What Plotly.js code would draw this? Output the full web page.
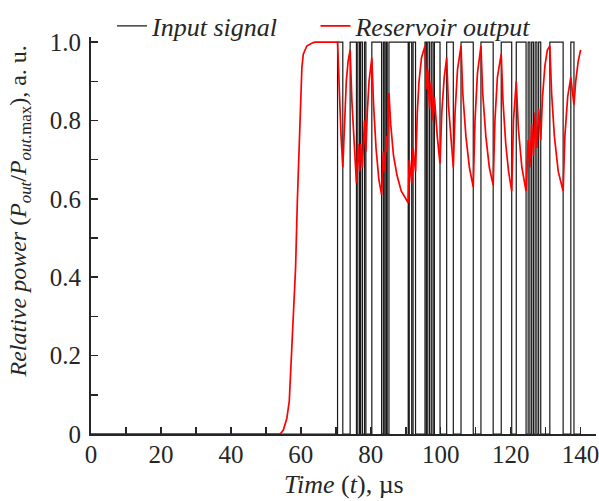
<!DOCTYPE html>
<html>
<head>
<meta charset="utf-8">
<script src="https://cdn.plot.ly/plotly-3.0.1.min.js"></script>
<style>
html,body{margin:0;padding:0;background:#fff;}
#chart{width:599px;height:501px;}
</style>
</head>
<body>
<div id="chart"></div>
<script>
// Input signal: switching times (µs) and level after each time, drawn as a step (hv)
const inT = [0, 70.5, 72.0, 74.1, 75.9, 76.3, 76.8, 77.1, 77.6, 78.2, 78.6, 80.3, 83.1, 83.6, 84.0, 84.4, 84.7, 85.2, 90.7, 91.0, 91.7, 92.1, 92.8, 95.5, 95.9, 96.3, 96.8, 97.3, 97.8, 98.2, 99.8, 101.7, 103.6, 105.8, 109.3, 111.5, 115.0, 117.3, 120.3, 121.6, 124.4, 125.0, 125.5, 126.0, 126.5, 127.0, 127.5, 128.0, 128.6, 131.2, 135.0, 137.2, 138.1, 140];
const inV = [0, 1, 0, 1, 0, 1, 0, 1, 0, 1, 0, 1, 0, 1, 0, 1, 0, 1, 0, 1, 0, 1, 0, 1, 0, 1, 0, 1, 0, 1, 0, 1, 0, 1, 0, 1, 0, 1, 0, 1, 0, 1, 0, 1, 0, 1, 0, 1, 0, 1, 0, 1, 0, 0];

// Reservoir output (relative power)
const outT = [0, 54.1, 55.0, 56.0, 56.7, 57.7, 58.5, 59.0, 59.6, 59.8, 60.3, 60.7, 61.7, 63.1, 64.0, 70.5,
  71.0, 71.5, 72.0, 72.5, 73.0, 73.5, 74.1, 74.6, 75.2, 75.9,
  76.3, 76.8, 77.1, 77.6, 78.2, 78.6, 79.0, 79.5, 80.3,
  80.8, 81.5, 82.3, 83.1, 83.6, 84.0, 84.4, 84.7, 85.2,
  85.7, 86.5, 87.5, 88.7, 90.7, 91.0, 91.7, 92.1, 92.8,
  93.3, 93.8, 94.5, 95.5, 95.9, 96.3, 96.8, 97.3, 97.8, 98.2, 99.0, 99.8,
  100.3, 101.0, 101.7, 102.2, 102.9, 103.6, 104.1, 104.8, 105.8,
  106.3, 107.2, 108.2, 109.3, 109.8, 110.5, 111.5,
  112.0, 112.9, 113.9, 115.0, 115.5, 116.2, 117.3,
  117.8, 118.6, 119.4, 120.3, 120.8, 121.6, 122.2, 123.2, 124.4,
  125.0, 125.5, 126.0, 126.5, 127.0, 127.5, 128.0, 128.6,
  129.1, 129.8, 130.5, 131.2, 131.7, 132.5, 133.6, 135.0,
  135.5, 136.3, 137.2, 138.1, 138.6, 139.3, 140];
const outP = [0, 0, 0.01, 0.04, 0.084, 0.254, 0.424, 0.594, 0.765, 0.85, 0.935, 0.969, 0.99, 0.997, 1.0, 1.0,
  0.87, 0.76, 0.68, 0.82, 0.9, 0.95, 0.98, 0.85, 0.74, 0.64,
  0.74, 0.67, 0.74, 0.68, 0.8, 0.72, 0.82, 0.9, 0.96,
  0.84, 0.73, 0.65, 0.61, 0.72, 0.67, 0.76, 0.72, 0.87,
  0.79, 0.71, 0.66, 0.62, 0.59, 0.7, 0.64, 0.73, 0.67,
  0.82, 0.9, 0.96, 0.99, 0.88, 0.93, 0.83, 0.9, 0.8, 0.86, 0.76, 0.69,
  0.82, 0.91, 0.96, 0.84, 0.75, 0.68, 0.82, 0.93, 0.99,
  0.87, 0.76, 0.68, 0.63, 0.8, 0.92, 0.99,
  0.87, 0.76, 0.68, 0.635, 0.8, 0.91, 0.97,
  0.85, 0.74, 0.67, 0.62, 0.8, 0.9, 0.78, 0.68, 0.62,
  0.75, 0.68, 0.79, 0.71, 0.82, 0.73, 0.83, 0.75,
  0.86, 0.94, 0.98, 0.99, 0.87, 0.76, 0.67, 0.62,
  0.76, 0.86, 0.91, 0.84, 0.9, 0.95, 0.98];

const yTickVals = [0, 0.2, 0.4, 0.6, 0.8, 1.0];
const yTickText = ['0', '0.2', '0.4', '0.6', '0.8', '1.0'];
const xTickVals = [0, 20, 40, 60, 80, 100, 120, 140];
const seriesNames = ['<i>Input signal</i>&nbsp;&nbsp;&nbsp;&nbsp;&nbsp;', '<i>Reservoir output</i>'];

const xTitle = '<i>Time</i> (<i>t</i>), µs';
const yTitle = '<i>Relative power</i> (<i>P<sub>out</sub></i>/<i>P</i><sub><i>out</i>.max</sub>), a. u.';

const serif = 'Liberation Serif';
const axisCol = '#262626';

const traces = [
  {x: inT, y: inV, type: 'scatter', mode: 'lines', name: seriesNames[0],
   line: {color: '#1a1a1a', width: 1.2, shape: 'hv'}},
  {x: outT, y: outP, type: 'scatter', mode: 'lines', name: seriesNames[1],
   line: {color: '#ff0000', width: 1.7}}
];

const layout = {
  width: 599, height: 501,
  margin: {l: 91, r: 3, t: 37, b: 67, pad: 0},
  paper_bgcolor: '#fff', plot_bgcolor: '#fff',
  font: {family: serif, color: axisCol, size: 25},
  showlegend: true,
  legend: {orientation: 'h', x: 0.0416, y: 1.0277, xanchor: 'left', yanchor: 'middle',
           font: {family: serif, size: 26, color: axisCol},
           bgcolor: 'rgba(0,0,0,0)', borderwidth: 0, tracegroupgap: 0},
  xaxis: {
    range: [0, 144.4], showline: true, linecolor: axisCol, linewidth: 2,
    ticks: 'inside', ticklen: 7, tickwidth: 1.5, tickcolor: axisCol,
    tickvals: xTickVals, showgrid: false, zeroline: false, ticklabeloverflow: 'allow',
    ticklabelstandoff: -3,
    minor: {dtick: 10, tick0: 0, ticks: 'inside', ticklen: 7, tickwidth: 1.5, tickcolor: axisCol, showgrid: false},
    tickfont: {family: serif, size: 25, color: axisCol}
  },
  yaxis: {
    range: [0, 1.013], showline: true, linecolor: axisCol, linewidth: 2,
    ticks: 'inside', ticklen: 7, tickwidth: 1.5, tickcolor: axisCol,
    tickvals: yTickVals, ticktext: yTickText, showgrid: false, zeroline: false,
    minor: {dtick: 0.1, tick0: 0, ticks: 'inside', ticklen: 7, tickwidth: 1.5, tickcolor: axisCol, showgrid: false},
    tickfont: {family: serif, size: 25, color: axisCol}, ticklabelstandoff: 3
  },
  annotations: [
    {text: xTitle, xref: 'paper', yref: 'paper', x: 0.5, y: -0.126, xanchor: 'center', yanchor: 'middle',
     showarrow: false, font: {family: serif, size: 26, color: axisCol}},
    {text: yTitle, xref: 'paper', yref: 'paper', x: -0.1406, y: 0.5605, xanchor: 'center', yanchor: 'middle',
     textangle: -90, showarrow: false, font: {family: serif, size: 24, color: axisCol}}
  ]
};

Plotly.newPlot('chart', traces, layout, {staticPlot: true, displayModeBar: false});
</script>
</body>
</html>
